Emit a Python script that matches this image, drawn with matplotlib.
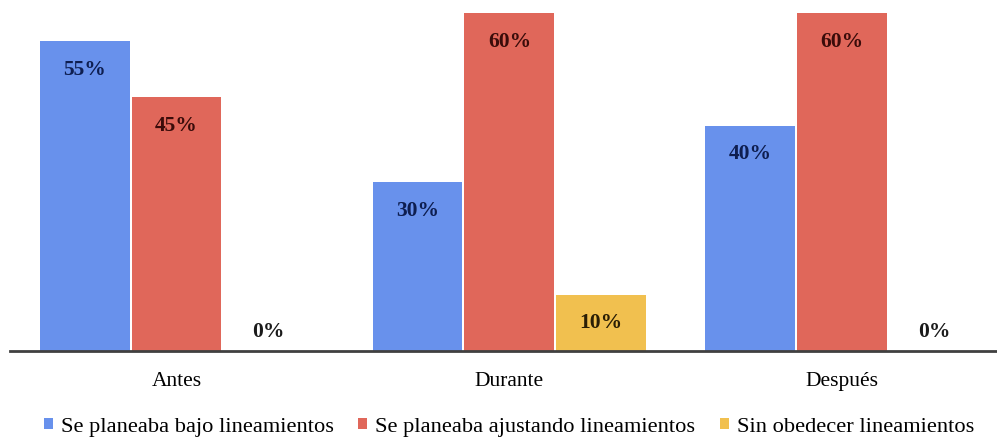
import matplotlib
matplotlib.use("Agg")
import matplotlib.pyplot as plt
import numpy as np

categories = ["Antes", "Durante", "Después"]
series_names = ["Se planeaba bajo lineamientos",
                "Se planeaba ajustando lineamientos",
                "Sin obedecer lineamientos"]
bajo = [55, 30, 40]
ajustando = [45, 60, 60]
sin_obedecer = [0, 10, 0]

colors = ["#6891EC", "#E0675A", "#F1C04F"]
label_colors = ["#0E1E50", "#3A0C0A", "#2A1E05"]

plt.rcParams['font.family'] = ['Liberation Serif', 'DejaVu Serif']

fig = plt.figure(figsize=(9.97, 4.40), dpi=100)
ax = fig.add_axes([10/997, 1 - 351/440, 987/997, 351/440])

x = np.arange(len(categories))
w = 0.27
data = [bajo, ajustando, sin_obedecer]
for i, (vals, name) in enumerate(zip(data, series_names)):
    pos = x + (i - 1) * (w + 0.006)
    ax.bar(pos, vals, width=w, color=colors[i], label=name, zorder=2)
    for p, v in zip(pos, vals):
        if v > 0:
            ax.text(p, v - 5.1, f"{v}%", ha="center", va="center",
                    fontsize=15.5, fontweight="bold", color=label_colors[i], zorder=3)
        else:
            ax.text(p, 3.4, f"{v}%", ha="center", va="center",
                    fontsize=15.5, fontweight="bold", color="#1a1a1a", zorder=3)

ax.set_xlim(-0.5, 2.465)
ax.set_ylim(0, 62.3)
for s in ["top", "right", "left"]:
    ax.spines[s].set_visible(False)
ax.spines["bottom"].set_color("#404040")
ax.spines["bottom"].set_linewidth(2)
ax.set_yticks([])
ax.set_xticks(x)
ax.set_xticklabels(categories, fontsize=15.5)
ax.tick_params(axis="x", length=0, pad=15)

handles, labels = ax.get_legend_handles_labels()
fig.legend(handles, labels, loc="center", bbox_to_anchor=(0.5105, 1 - 427/440),
           ncol=3, frameon=False, fontsize=16.1, handlelength=0.4, handleheight=0.4,
           handletextpad=0.35, columnspacing=1.1)

fig.savefig("out.png", dpi=100)
